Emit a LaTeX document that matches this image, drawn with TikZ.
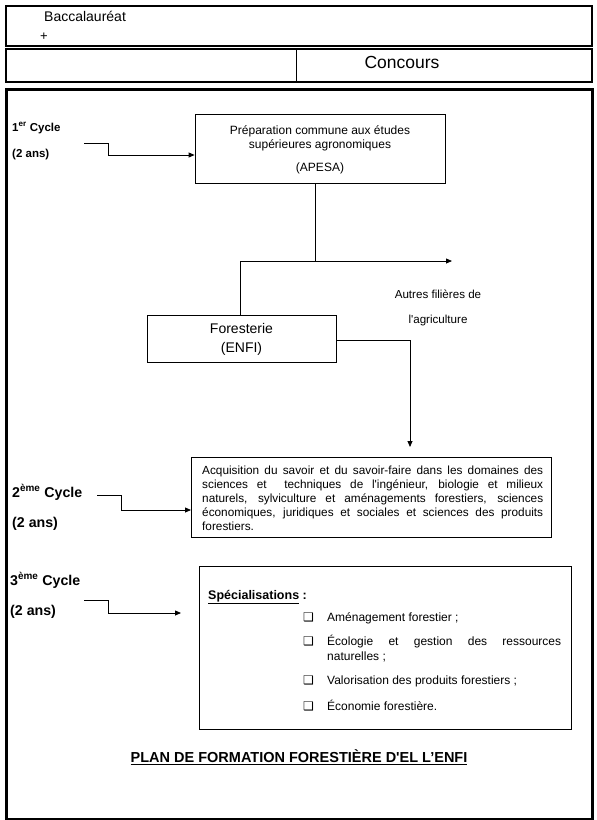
\documentclass[tikz,border=0pt]{standalone}
\usepackage{fontspec}
\setmainfont{Liberation Sans}
\newfontfamily\symfont{DejaVu Sans}
\usetikzlibrary{arrows.meta}
\newcommand{\sq}{\textquotesingle}
\tikzset{
  box/.style={draw, line width=0.8pt, inner sep=0pt},
  conn/.style={line width=0.8pt},
  arr/.style={line width=0.8pt, -{Triangle[length=6pt,width=5pt]}},
  lbl/.style={anchor=base west, inner sep=0pt},
  cyc/.style={lbl, font=\bfseries\fontsize{11.5}{13}\selectfont},
  cycb/.style={lbl, font=\bfseries\fontsize{14.2}{16}\selectfont},
  small/.style={font=\fontsize{12}{14}\selectfont},
  chk/.style={anchor=base west, inner sep=0pt, font=\symfont\fontsize{12}{14}\selectfont},
}
\begin{document}
\begin{tikzpicture}[x=1pt,y=-1pt]
\useasboundingbox (0,0) rectangle (597,820);
% header boxes
\node[box, line width=2pt, minimum width=586pt, minimum height=40pt, anchor=north west] (bac) at (5,5) {};
\node[lbl, font=\fontsize{14}{16}\selectfont] (bact) at (44,21) {Baccalauréat};
\node[lbl, font=\fontsize{13}{15}\selectfont] (plus) at (40,40) {+};
\node[box, line width=2pt, minimum width=586pt, minimum height=33pt, anchor=north west] (conc) at (5,48) {};
\draw[line width=0.8pt] (296,48) -- (296,81);
\node[font=\fontsize{17.5}{19}\selectfont, inner sep=0pt, anchor=base] (conct) at (402,68) {Concours};
% main frame
\node[box, line width=3pt, minimum width=586pt, minimum height=730pt, anchor=north west] (frame) at (5,87.5) {};
% cycle 1
\node[cyc] (c1) at (12,131) {1\textsuperscript{er} Cycle};
\node[cyc] (c1b) at (12,157) {(2 ans)};
\node[box, minimum width=250pt, minimum height=69pt] (apesa) at (320,148.5) {};
\node[small, align=center, inner sep=0pt] (apesat) at (320,150) {Préparation commune aux études\\supérieures agronomiques\\[9pt](APESA)};
\coordinate (s1) at (84,143);
\draw[arr] (s1) -- (108,143) |- (apesa.west |- 0,155);
% split
\coordinate (j) at (315,261);
\coordinate (autres) at (452,261);
\node[box, minimum width=189pt, minimum height=47pt] (for) at (241.5,338.5) {};
\node[align=center, inner sep=0pt, font=\fontsize{14}{19}\selectfont] (fort) at (241.5,339) {Foresterie\\(ENFI)};
\draw[conn] (apesa.south -| j) -- (j);
\draw[arr] (240,261) -- (autres);
\draw[conn] (for.north -| 240,0) -- (240,261);
\node[align=center, inner sep=0pt, font=\fontsize{11.6}{25}\selectfont] (autt) at (438,308) {Autres filières de\\l\sq agriculture};
% box 2
\coordinate (e2) at (410,447);
\node[box, minimum width=360pt, minimum height=80pt, anchor=north west] (acq) at (191,457) {};
\draw[arr] (for.east |- 0,340) -- (410,340) -- (e2);
\node[text width=341pt, align=justify, inner sep=0pt, font=\fontsize{11.8}{13.9}\selectfont, anchor=north west] (acqt) at (202,466) {Acquisition du savoir et du savoir-faire dans les domaines des\linebreak sciences et \ techniques de l\sq ingénieur, biologie et milieux\linebreak naturels, sylviculture et aménagements forestiers, sciences\linebreak économiques, juridiques et sociales et sciences des produits\linebreak forestiers.};
\node[cycb] (c2) at (12,497) {2\textsuperscript{ème} Cycle};
\node[cycb] (c2b) at (12,527) {(2 ans)};
\coordinate (s2) at (97,495);
\draw[arr] (s2) -- (121,495) |- (acq.west |- 0,510);
% box 3
\node[cycb] (c3) at (10,585) {3\textsuperscript{ème} Cycle};
\node[cycb] (c3b) at (10,615) {(2 ans)};
\node[box, minimum width=372pt, minimum height=163pt, anchor=north west] (spec) at (199,566) {};
\coordinate (s3) at (84,600);
\coordinate (e3) at (181,613);
\draw[arr] (s3) -- (108,600) |- (e3);
\node[lbl, font=\bfseries\fontsize{12.5}{14}\selectfont] (spt) at (208,599) {\underline{Spécialisations} :};
\node[chk] (k1) at (303,621) {❑};
\node[chk] (k2) at (303,645) {❑};
\node[chk] (k3) at (303,684) {❑};
\node[chk] (k4) at (303,710) {❑};
\node[lbl, small] (i1) at (327,621) {Aménagement forestier ;};
\node[text width=234pt, align=justify, inner sep=0pt, anchor=base west, font=\fontsize{12}{15}\selectfont] (i2) at (327,645) {Écologie et gestion des ressources\linebreak naturelles ;};
\node[lbl, small] (i3) at (327,684) {Valorisation des produits forestiers ;};
\node[lbl, small] (i4) at (327,710) {Économie forestière.};
% title
\node[font=\bfseries\fontsize{14.5}{16}\selectfont, inner sep=0pt] (title) at (299,757) {\underline{PLAN DE FORMATION FORESTIÈRE D\sq EL L’ENFI}};
\end{tikzpicture}
\end{document}
